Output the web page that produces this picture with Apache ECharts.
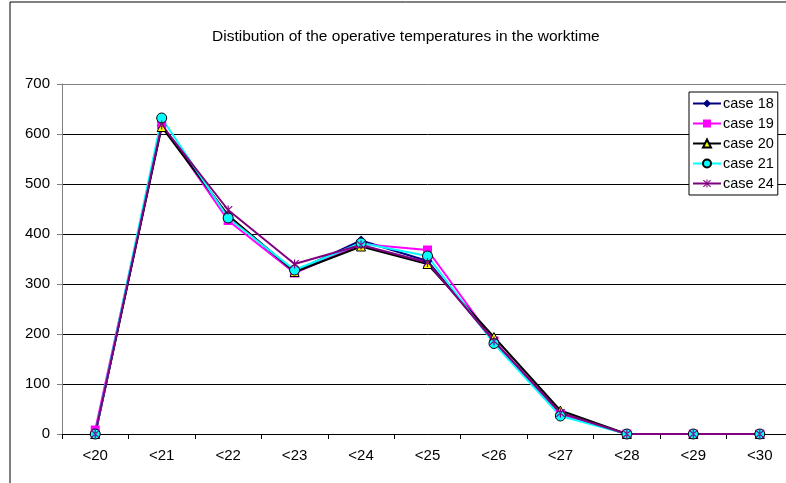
<!DOCTYPE html>
<html>
<head>
<meta charset="utf-8">
<script src="https://cdn.jsdelivr.net/npm/echarts@6/dist/echarts.min.js"></script>
<style>
  html, body { margin: 0; padding: 0; background: #fff; overflow: hidden; }
  #chart { width: 800px; height: 483px; }
</style>
</head>
<body>
<div id="chart"></div>
<script>
// 温度区间
var categories = ['<20', '<21', '<22', '<23', '<24', '<25', '<26', '<27', '<28', '<29', '<30'];
var yTicks = [0, 100, 200, 300, 400, 500, 600, 700];

var case18 = [0, 617, 437, 325, 387, 346, 185, 41, 0, 0, 0];
var case19 = [8, 620, 427, 322, 380, 368, 186, 40, 0, 0, 0];
var case20 = [0, 614, 437, 324, 375, 340, 194, 47, 0, 0, 0];
var case21 = [0, 632, 432, 328, 382, 356, 181, 36, 0, 0, 0];
var case24 = [0, 618, 448, 340, 378, 343, 186, 42, 0, 0, 0];

// Excel 的星号标记
var asterisk = 'path://M-0.6,-5L0.6,-5L0.6,5L-0.6,5Z' +
    'M-4.6,-3.8L-3.8,-4.6L4.6,3.8L3.8,4.6Z' +
    'M4.6,-3.8L3.8,-4.6L-4.6,3.8L-3.8,4.6Z';

function lineSeries(name, data, color, symbol, size, fill, border) {
    return {
        name: name,
        type: 'line',
        data: data,
        symbol: symbol,
        symbolSize: size,
        showAllSymbol: true,
        animation: false,
        lineStyle: { color: color, width: 2 },
        itemStyle: {
            color: fill,
            borderColor: border,
            borderWidth: border ? 1 : 0
        }
    };
}

var chart = echarts.init(document.getElementById('chart'));

chart.setOption({
    animation: false,
    textStyle: { fontFamily: 'Liberation Sans, Arial, sans-serif' },
    title: {
        text: 'Distibution of the operative temperatures in the worktime',
        left: 207,
        top: 24,
        textStyle: { fontSize: 15.5, fontWeight: 'normal', color: '#000' }
    },
    graphic: [{
        type: 'rect',
        shape: { x: 10, y: 2, width: 820, height: 520 },
        style: { fill: 'none', stroke: '#000', lineWidth: 1 },
        silent: true
    }],
    legend: {
        orient: 'vertical',
        left: 689,
        top: 92,
        padding: [4, 4, 4, 3],
        itemWidth: 28,
        itemHeight: 10,
        itemGap: 5,
        backgroundColor: '#fff',
        borderColor: '#000',
        borderWidth: 1,
        borderRadius: 0,
        textStyle: { fontSize: 14.5, lineHeight: 14, color: '#000', padding: [0, 0, 0, -3] },
        data: ['case 18', 'case 19', 'case 20', 'case 21', 'case 24']
    },
    grid: {
        left: 62,
        top: 84,
        width: 731,
        height: 350
    },
    xAxis: {
        type: 'category',
        data: categories,
        boundaryGap: true,
        axisLine: { lineStyle: { color: '#000', width: 1 } },
        axisTick: { show: true, length: 5, lineStyle: { color: '#000' } },
        axisLabel: { fontSize: 15, color: '#000', margin: 14 }
    },
    yAxis: {
        type: 'value',
        min: yTicks[0],
        max: yTicks[yTicks.length - 1],
        interval: 100,
        axisLine: { show: true, lineStyle: { color: '#808080' } },
        axisTick: { show: true, length: 5, lineStyle: { color: '#808080' } },
        axisLabel: { fontSize: 15, color: '#000', margin: 12 },
        splitLine: { lineStyle: { color: ['#000', '#000', '#000', '#000', '#000', '#000', '#000', '#808080'], width: 1 } }
    },
    series: [
        lineSeries('case 18', case18, '#000080', 'diamond', 10, '#000080', null),
        lineSeries('case 19', case19, '#FF00FF', 'rect', 9, '#FF00FF', null),
        lineSeries('case 20', case20, '#000000', 'triangle', 9, '#FFFF00', '#000'),
        lineSeries('case 21', case21, '#00FFFF', 'circle', 10, '#00FFFF', '#000'),
        lineSeries('case 24', case24, '#800080', asterisk, 9, '#800080', null)
    ]
});
</script>
</body>
</html>
